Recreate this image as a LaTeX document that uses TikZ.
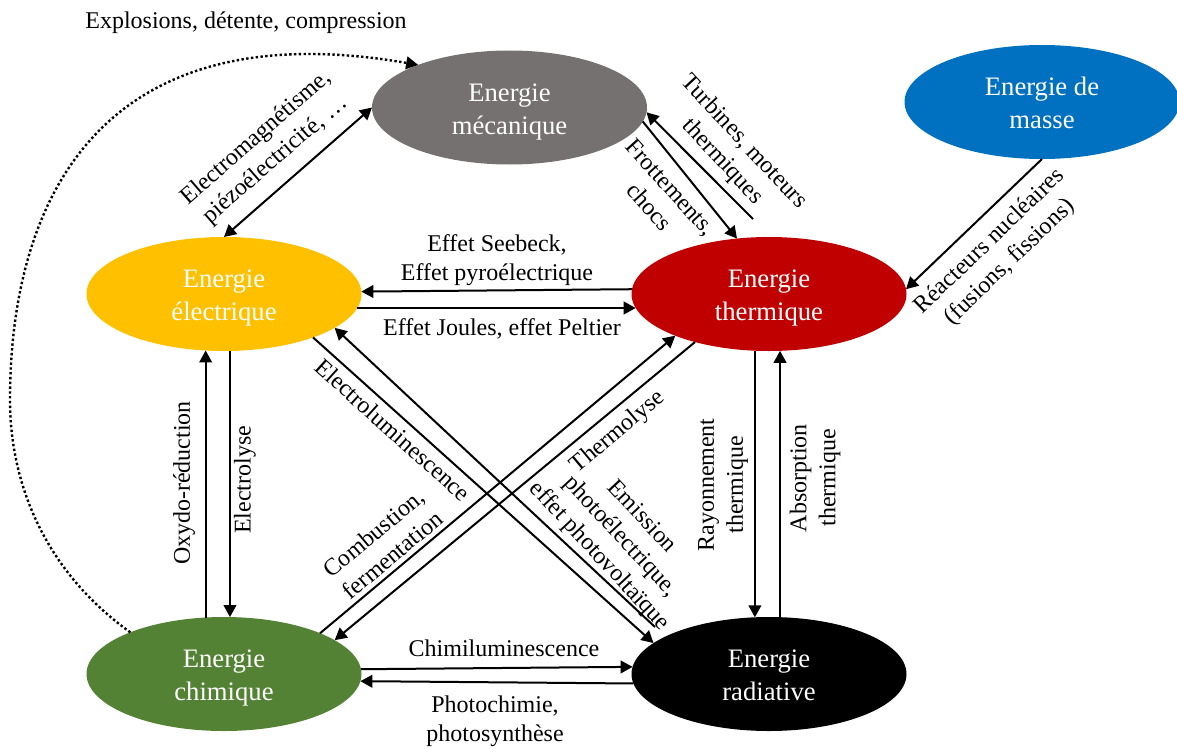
\documentclass[tikz,border=0pt]{standalone}
\usepackage{fontspec}
\setmainfont{Liberation Serif}
\usetikzlibrary{arrows.meta}
\usetikzlibrary{shapes.geometric}
\definecolor[named]{EMeca}{HTML}{767171}
\definecolor[named]{EMasse}{HTML}{0070C0}
\definecolor[named]{EElec}{HTML}{FFC000}
\definecolor[named]{ETherm}{HTML}{C00000}
\definecolor[named]{EChim}{HTML}{548235}
\tikzset{
  energie/.style={ellipse, minimum width=206.25pt, minimum height=85.5pt,
    inner sep=0pt, outer sep=0pt, text=white, align=center,
    text height=40pt, text depth=0pt,
    font=\fontsize{20}{24.75}\selectfont},
  conv/.style={line width=1.5pt, >={Triangle[length=9pt,width=9.5pt]}},
  lbl/.style={align=center, inner sep=0pt, font=\fontsize{18}{21.75}\selectfont},
}

\begin{document}
\begin{tikzpicture}[x=0.75pt,y=-0.75pt]
  \useasboundingbox (0,0) rectangle (1177,749);
  \node[energie, fill=EMeca]  (meca)  at (509.5,107.5) {Energie\\mécanique};
  \node[energie, fill=EMasse] (masse) at (1042,102) {Energie de\\masse};
  \node[energie, fill=EElec]  (elec)  at (224,294) {Energie\\électrique};
  \node[energie, fill=ETherm] (therm) at (769,294) {Energie\\thermique};
  \node[energie, fill=EChim]  (chim)  at (224,674) {Energie\\chimique};
  \node[energie, fill=black]  (rad)   at (769,674) {Energie\\radiative};
  \coordinate (tTurb) at (753,219);
  \coordinate (tEmis) at (655,627);

  \draw[conv,<->] (elec.north) -- (meca.west);
  \draw[conv,->] (meca.-6) -- (therm.120);
  \draw[conv,->] (tTurb) -- (meca.-2);
  \draw[conv,->] (therm.178.75) -- (elec.1.25);
  \draw[conv,->] (elec.-6) -- (therm.186);
  \draw[conv,->] (chim.108.6) -- (elec.-108.6);
  \draw[conv,->] (elec.-84) -- (chim.84);
  \draw[conv,->] (therm.-104.8) -- (rad.104.8);
  \draw[conv,->] (rad.79) -- (therm.-79);
  \draw[conv,->] (chim.2.94) -- (rad.177.06);
  \draw[conv,->] (rad.-176.64) -- (chim.-3.36);
  \draw[conv,->] (masse.south) -- (therm.2.1);
  \draw[conv,->] (chim.23.1) -- (therm.-156.5);
  \draw[conv,->] (therm.-147.7) -- (chim.17.3);
  \draw[conv,->] (elec.-26.6) -- (rad.165.5);
  \draw[conv,->] (tEmis) -- (elec.-17.3);
  % explosions
  \draw[conv,->,line width=1.8pt,dash pattern=on 1.8pt off 1.8pt] (chim.156)
    .. controls (50,575) and (10,490) .. (10,400)
    .. controls (10,200) and (100,10) .. (meca.155);

  \node[lbl] (lExpl) at (246,23) {Explosions, détente, compression};
  \node[lbl, rotate=41] (lEM) at (266,149) {Electromagnétisme,\\piézoélectricité, …};
  \node[lbl, rotate=-48] (lFrot) at (660,197) {Frottements,\\chocs};
  \node[lbl, rotate=-47] (lTurb) at (733,152) {Turbines, moteurs\\thermiques};
  \node[lbl, rotate=44] (lReac) at (1000,252) {Réacteurs nucléaires\\(fusions, fissions)};
  \node[lbl] (lSee) at (497,260) {Effet Seebeck,\\Effet pyroélectrique};
  \node[lbl] (lJoule) at (502,329) {Effet Joules, effet Peltier};
  \node[lbl, rotate=90] (lOxy) at (184,483) {Oxydo-réduction};
  \node[lbl, rotate=90] (lElys) at (245,480) {Electrolyse};
  \node[lbl, rotate=90] (lRay) at (723,485) {Rayonnement\\thermique};
  \node[lbl, rotate=90] (lAbs) at (815,478) {Absorption\\thermique};
  \node[lbl, rotate=40] (lComb) at (383,544) {Combustion,\\fermentation};
  \node[lbl, rotate=40] (lThly) at (618,432) {Thermolyse};
  \node[lbl, rotate=-42] (lElum) at (393,430) {Electroluminescence};
  \node[lbl, rotate=-47] (lEmis) at (620,537) {Emission\\photoélectrique,\\effet photovoltaïque};
  \node[lbl] (lChimi) at (504,648) {Chimiluminescence};
  \node[lbl] (lPhoto) at (495,721) {Photochimie,\\photosynthèse};
\end{tikzpicture}
\end{document}
